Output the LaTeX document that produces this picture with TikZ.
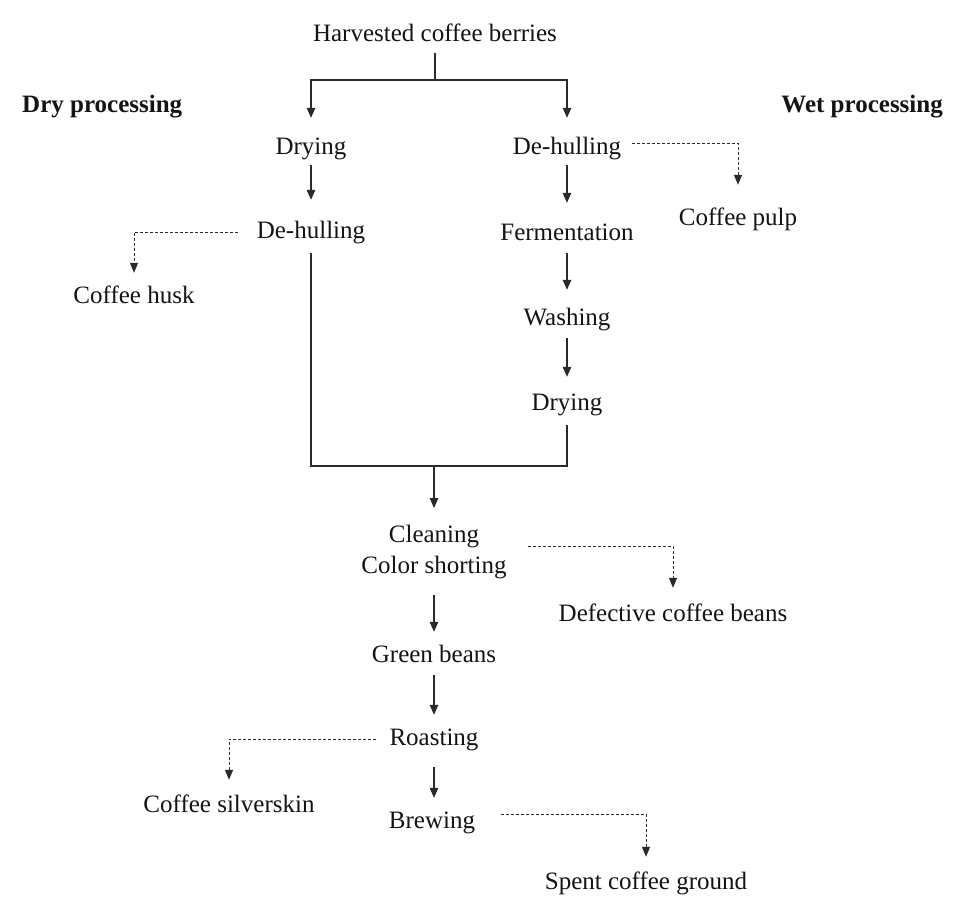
\documentclass[tikz,border=0pt]{standalone}
\usepackage{fontspec}
\setmainfont{Liberation Serif}
\usetikzlibrary{arrows.meta}

\definecolor{ink}{HTML}{141414}
\definecolor{wire}{HTML}{2A2A2A}

\begin{document}
\begin{tikzpicture}[x=1pt, y=-1pt,
  lbl/.style={inner sep=0pt, anchor=base, text=ink,
    font=\fontsize{25}{31}\selectfont, text height=17pt, text depth=5pt},
  head/.style={inner sep=0pt, text=ink,
    font=\fontsize{25}{31}\selectfont\bfseries, text height=17pt, text depth=5pt},
  wireline/.style={draw=wire, line width=1.2pt},
  flow/.style={wireline, -{Triangle[length=10pt,width=8.5pt]}},
  byprod/.style={draw=wire, line width=1pt, dash pattern=on 3pt off 2pt,
    -{Triangle[length=10pt,width=8pt]}}
]
\useasboundingbox[fill=white] (0,0) rectangle (955,905);

% headings
\node[head, anchor=base west] (dryproc) at (22,112) {Dry processing};
\node[head, anchor=base east] (wetproc) at (943,112) {Wet processing};

% main stages
\node[lbl] (harv)  at (435,41)  {Harvested coffee berries};
\node[lbl] (dry1)  at (311,154) {Drying};
\node[lbl] (dh1)   at (311,238) {De-hulling};
\node[lbl] (dh2)   at (567,154) {De-hulling};
\node[lbl] (ferm)  at (567,240) {Fermentation};
\node[lbl] (wash)  at (567,325) {Washing};
\node[lbl] (dry2)  at (567,410) {Drying};
\node[inner sep=0pt, anchor=north, align=center, text=ink,
      font=\fontsize{25}{31}\selectfont] (clean) at (434,525) {Cleaning\\Color shorting};
\node[lbl] (green) at (434,662) {Green beans};
\node[lbl] (roast) at (434,745) {Roasting};
\node[lbl] (brew)  at (432,828) {Brewing};

% by-products
\node[lbl] (husk)   at (134,303) {Coffee husk};
\node[lbl] (pulp)   at (738,225) {Coffee pulp};
\node[lbl] (defect) at (673,621) {Defective coffee beans};
\node[lbl] (silver) at (229,812) {Coffee silverskin};
\node[lbl] (spent)  at (646,889) {Spent coffee ground};

% split into the two routes
\coordinate (split) at (435,80);
\draw[wireline, shorten <=7pt] (harv.south) -- (split);
\draw[flow, shorten >=19pt] (split) -| (dry1.north);
\draw[flow, shorten >=19pt] (split) -| (dh2.north);

% dry route
\draw[flow, shorten <=6pt, shorten >=21pt] (dry1.south) -- (dry1.south |- dh1.north);
\draw[byprod, shorten <=19pt, shorten >=13pt] (dh1.west) -| (husk.north);

% wet route
\draw[flow, shorten <=6pt, shorten >=20pt] (dh2.south) -- (dh2.south |- ferm.north);
\draw[byprod, shorten <=11pt, shorten >=23pt] ([yshift=5pt]dh2.east) -| (pulp.north);
\draw[flow, shorten <=8pt, shorten >=18pt] (ferm.south) -- (ferm.south |- wash.north);
\draw[flow, shorten <=8pt, shorten >=16pt] (wash.south) -- (wash.south |- dry2.north);

% routes join
\coordinate (merge) at (434,466);
\draw[wireline, shorten <=10pt, shorten >=10pt] (dh1.south) |- (merge) -| (dry2.south);
\draw[flow, shorten >=17pt] (merge) -- (merge |- clean.north);

% common stages
\draw[byprod, shorten <=21pt, shorten >=16pt] ([yshift=5.5pt]clean.east) -| (defect.north);
\draw[flow, shorten <=16pt, shorten >=13pt] (clean.south) -- (clean.south |- green.north);
\draw[flow, shorten <=8pt, shorten >=13pt] (green.south) -- (green.south |- roast.north);
\draw[byprod, shorten <=13.5pt, shorten >=15pt] (roast.west) -| (silver.north);
\draw[flow, shorten <=17pt, shorten >=13pt] (roast.south) -- (roast.south |- brew.north);
\draw[byprod, shorten <=26pt, shorten >=15pt] ([yshift=8pt]brew.east) -| (spent.north);
\end{tikzpicture}
\end{document}
